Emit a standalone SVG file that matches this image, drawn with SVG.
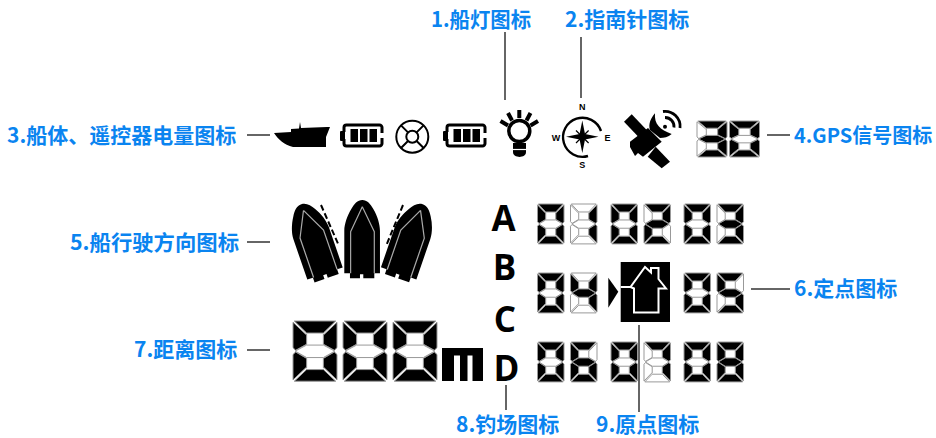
<svg xmlns="http://www.w3.org/2000/svg" xmlns:xlink="http://www.w3.org/1999/xlink" width="936" height="438" viewBox="0 0 936 438">
<style>
text.l{font-family:"Noto Sans CJK SC","Noto Sans",sans-serif;font-weight:700;font-size:21px;fill:#0a84f0}
text.k{font-family:"Open Sans","Liberation Sans",sans-serif;font-weight:700;font-size:35px;fill:#000}
text.c{font-family:"Liberation Sans",sans-serif;font-weight:700;font-size:9px;fill:#000;text-anchor:middle}
#connectors line{stroke:#666;stroke-width:2}
.p{stroke:#999;stroke-width:1;vector-effect:non-scaling-stroke;stroke-linejoin:round}
.on{fill:#000}.off{fill:#fff}
</style>
<defs>
<polygon id="t" class="p" points="3,0 97,0 69,28 31,28"/>
<polygon id="b" class="p" points="3,140 97,140 69,113 31,113"/>
<polygon id="ul" class="p" points="0,3 29,31 31,31 31,54 6,68 0,62"/>
<polygon id="ur" class="p" points="100,3 71,31 69,31 69,54 94,68 100,62"/>
<polygon id="ll" class="p" points="0,137 29,109 31,109 31,87 6,72 0,78"/>
<polygon id="lr" class="p" points="100,137 71,109 69,109 69,87 94,72 100,78"/>
<polygon id="m" class="p" points="5,70 31,56 69,56 95,70 69,85 31,85"/>
<g id="d0"><use href="#t" class="on"/><use href="#ul" class="on"/><use href="#ur" class="on"/><use href="#m" class="off"/><use href="#ll" class="on"/><use href="#lr" class="on"/><use href="#b" class="on"/></g>
<g id="d1"><use href="#t" class="off"/><use href="#ul" class="off"/><use href="#ur" class="on"/><use href="#m" class="off"/><use href="#ll" class="off"/><use href="#lr" class="on"/><use href="#b" class="off"/></g>
<g id="d2"><use href="#t" class="on"/><use href="#ul" class="off"/><use href="#ur" class="on"/><use href="#m" class="on"/><use href="#ll" class="on"/><use href="#lr" class="off"/><use href="#b" class="on"/></g>
<g id="d3"><use href="#t" class="on"/><use href="#ul" class="off"/><use href="#ur" class="on"/><use href="#m" class="on"/><use href="#ll" class="off"/><use href="#lr" class="on"/><use href="#b" class="on"/></g>
<g id="d4"><use href="#t" class="off"/><use href="#ul" class="on"/><use href="#ur" class="on"/><use href="#m" class="on"/><use href="#ll" class="off"/><use href="#lr" class="on"/><use href="#b" class="off"/></g>
<g id="d5"><use href="#t" class="on"/><use href="#ul" class="on"/><use href="#ur" class="off"/><use href="#m" class="on"/><use href="#ll" class="off"/><use href="#lr" class="on"/><use href="#b" class="on"/></g>
<g id="d6"><use href="#t" class="on"/><use href="#ul" class="on"/><use href="#ur" class="off"/><use href="#m" class="on"/><use href="#ll" class="on"/><use href="#lr" class="on"/><use href="#b" class="on"/></g>
<g id="d7"><use href="#t" class="on"/><use href="#ul" class="off"/><use href="#ur" class="on"/><use href="#m" class="off"/><use href="#ll" class="off"/><use href="#lr" class="on"/><use href="#b" class="off"/></g>
<g id="d8"><use href="#t" class="on"/><use href="#ul" class="on"/><use href="#ur" class="on"/><use href="#m" class="on"/><use href="#ll" class="on"/><use href="#lr" class="on"/><use href="#b" class="on"/></g>
<g id="bat">
<path d="M4,9V4.500A2.500,2.500 0 0 1 6.500,2H39.500A2.500,2.500 0 0 1 42,4.500V10M42,15V20.500A2.500,2.500 0 0 1 39.500,23H6.500A2.500,2.500 0 0 1 4,20.500V16" fill="none" stroke="#000" stroke-width="3"/>
<rect x="0" y="8" width="5" height="10" rx="1" fill="#000"/>
<rect x="10.500" y="6" width="7.500" height="13" fill="#000"/><rect x="20" y="6" width="7.500" height="13" fill="#000"/><rect x="29.500" y="6" width="7.500" height="13" fill="#000"/>
</g>
<g id="boat" transform="scale(.3333)">
<path d="M0,-117C-14,-117 -25,-105 -33,-90C-45,-70 -54,-45 -54,-25V103H-37V118H-7V106H3V118H36V103H53V-25C53,-45 45,-70 33,-90C25,-105 14,-117 0,-117Z" fill="#000"/>
<path d="M0,-97L-35,-22V103M36,103V-22L0,-97" fill="none" stroke="#aaa" stroke-width="3.500"/>
</g>
</defs>
<rect width="936" height="438" fill="#fff"/>
<g id="connectors">
<line x1="505" y1="32" x2="505" y2="100"/>
<line x1="581" y1="37" x2="581" y2="98"/>
<line x1="247" y1="135" x2="270" y2="135"/>
<line x1="767" y1="135" x2="790" y2="135"/>
<line x1="247" y1="242" x2="270" y2="242"/>
<line x1="751" y1="289" x2="790" y2="289"/>
<line x1="247" y1="350" x2="270" y2="350"/>
<line x1="506" y1="385" x2="506" y2="410"/>
<line x1="639" y1="325" x2="639" y2="412"/>
</g>
<g id="label-1"><text class="l" x="431" y="27" textLength="100" lengthAdjust="spacingAndGlyphs">1.船灯图标</text></g>
<g id="label-2"><text class="l" x="565" y="27">2.指南针图标</text></g>
<g id="label-3"><text class="l" x="7" y="143">3.船体、遥控器电量图标</text></g>
<g id="label-4"><text class="l" x="794" y="143" style="font-size:20px">4.GPS信号图标</text></g>
<g id="label-5"><text class="l" x="70" y="250" textLength="169" lengthAdjust="spacingAndGlyphs">5.船行驶方向图标</text></g>
<g id="label-6"><text class="l" x="794" y="296">6.定点图标</text></g>
<g id="label-7"><text class="l" x="134" y="357">7.距离图标</text></g>
<g id="label-8"><text class="l" x="456" y="432">8.钓场图标</text></g>
<g id="label-9"><text class="l" x="596" y="432">9.原点图标</text></g>

<g id="ship"><path d="M274,133L291,132V129L299,128.500L300,122L301,128L327,127H330L326,137V147H293C284,145 278,139 274,133Z" fill="#000"/></g>
<use id="battery-1" href="#bat" transform="translate(340,123)"/>
<g id="lifebuoy" fill="none" stroke="#000" stroke-width="2"><circle cx="412.300" cy="136.700" r="16"/><circle cx="412.300" cy="136.700" r="6"/><path d="M401,125.400L408,132.400M423.600,125.400L416.600,132.400M401,148L408,141M423.600,148L416.600,141"/></g>
<use id="battery-2" href="#bat" transform="translate(443,123)"/>
<g id="bulb"><circle cx="519.300" cy="131" r="10.500" fill="none" stroke="#000" stroke-width="3.500"/><path d="M513,143H526V152C526,158.500 513,158.500 513,152Z" fill="#000"/><path d="M513,149.500H526" stroke="#fff" stroke-width="1.200"/><path d="M519.300,110V118M508,113L512,120.500M530.500,113L526.500,120.500M500.500,121L508,125.500M538,121L530.500,125.500" stroke="#000" stroke-width="4"/></g>
<g id="compass"><path d="M588,156A19.500,19.500 0 1 1 601,131" fill="none" stroke="#000" stroke-width="2.400"/><path d="M582.300,120.500L585,134L598.500,136.700L585,139.400L582.300,153L579.600,139.400L566,136.700L579.600,134Z" fill="#000"/><path d="M576,130.500L588.600,143M588.600,130.500L576,143" stroke="#000" stroke-width="1.200"/><text class="c" x="582.300" y="110">N</text><text class="c" x="582.300" y="168">S</text><text class="c" x="556" y="141">W</text><text class="c" x="607.500" y="141">E</text></g>
<g id="satellite" fill="#000"><polygon points="624,121.700 631.700,114.300 646.700,130 638.300,136.700"/><polygon points="647.700,156.700 655.700,146.700 670,161.700 661.700,168.300"/><path d="M630,141.700L648,128L661.700,141.700L643,156.700L638,153L635,156L630,147Z"/><path d="M655,113.300C654,124 660,130 671.700,134C668,137 664,138 660,138L650,130C648,124 651,118 655,113.300Z"/><circle cx="665" cy="126.700" r="2"/><path d="M665,117.500A9,9 0 0 1 674,127.500M663,111.500A15,15 0 0 1 680,128" fill="none" stroke="#000" stroke-width="2.800"/></g>
<use id="gps-3" href="#d3" transform="translate(697,121) scale(.3,.257)"/>
<use id="gps-0" href="#d0" transform="translate(729.500,121) scale(.3,.257)"/>

<g id="boats">
<use href="#boat" transform="translate(314,241) rotate(-19) scale(1.05,1)"/>
<use href="#boat" transform="translate(362.300,239)"/>
<use href="#boat" transform="translate(410,241) rotate(19) scale(1.05,1)"/>
<path d="M321,205L339,246M403,205L386,246" stroke="#000" stroke-width="2" stroke-dasharray="6 3" fill="none"/>
</g>
<g id="letters"><text class="k" x="503.500" y="231" text-anchor="middle">A</text><text class="k" x="504.500" y="280" text-anchor="middle">B</text><text class="k" x="505" y="332" text-anchor="middle">C</text><text class="k" x="506.500" y="381" text-anchor="middle">D</text></g>
<g id="row-a">
<use href="#d0" transform="translate(537.500,204) scale(.265,.285)"/>
<use href="#d1" transform="translate(570.500,204) scale(.265,.285)"/>
<use href="#d0" transform="translate(611,204) scale(.265,.285)"/>
<use href="#d2" transform="translate(644,204) scale(.265,.285)"/>
<use href="#d0" transform="translate(684,204) scale(.265,.285)"/>
<use href="#d3" transform="translate(717,204) scale(.265,.285)"/>
</g>
<g id="row-b">
<use href="#d0" transform="translate(537.500,273) scale(.265,.285)"/>
<use href="#d4" transform="translate(570.500,273) scale(.265,.285)"/>
<use href="#d0" transform="translate(684,273) scale(.265,.285)"/>
<use href="#d5" transform="translate(717,273) scale(.265,.285)"/>
</g>
<g id="row-c">
<use href="#d0" transform="translate(537.500,342) scale(.265,.285)"/>
<use href="#d6" transform="translate(570.500,342) scale(.265,.285)"/>
<use href="#d0" transform="translate(611,342) scale(.265,.285)"/>
<use href="#d7" transform="translate(644,342) scale(.265,.285)"/>
<use href="#d0" transform="translate(684,342) scale(.265,.285)"/>
<use href="#d8" transform="translate(717,342) scale(.265,.285)"/>
</g>
<g id="home"><polygon points="608.300,277.700 618.300,291.700 608.300,307.700" fill="#000"/><rect x="620.700" y="262" width="49.300" height="60" fill="#000"/><path d="M620.700,287H630.500L645,267L651,272.500V268H658.500V279L666,288.500H658.500V312.500H634V288.500L630.500,287" fill="none" stroke="#fff" stroke-width="2"/></g>
<g id="distance">
<use href="#d0" transform="translate(293,321) scale(.44,.43)"/>
<use href="#d0" transform="translate(343,321) scale(.44,.43)"/>
<use href="#d0" transform="translate(393,321) scale(.44,.43)"/>
<path d="M442,348H483V381H472.500V355.500H467.500V381H460V355.500H454V381H442Z" fill="#000"/>
</g>
</svg>
